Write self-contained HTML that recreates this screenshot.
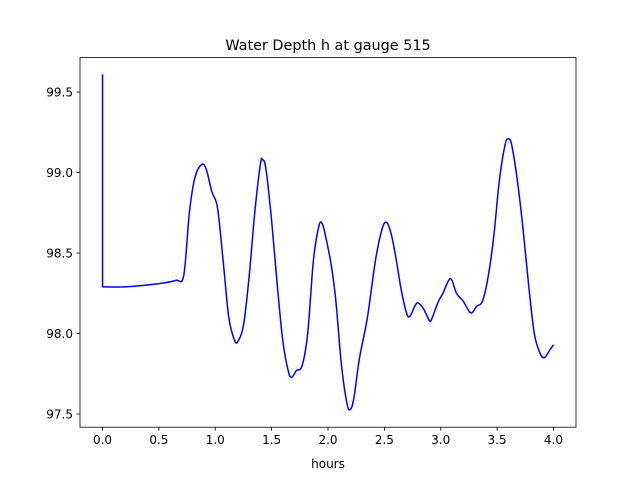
<!DOCTYPE html>
<html><head><meta charset="utf-8"><style>
body{margin:0;background:#fff}
svg text{font-family:"DejaVu Sans","Liberation Sans",sans-serif;font-size:12px;fill:#000}
</style></head><body>
<svg id="chart" width="640" height="480" xmlns="http://www.w3.org/2000/svg">
<rect width="640" height="480" fill="#fff"/>
<text x="328" y="50" text-anchor="middle" style="font-size:14.4px">Water Depth h at gauge 515</text>
<g id="plot"></g>
<rect x="80" y="57.6" width="496" height="369.6" fill="none" stroke="#000" stroke-width="0.8"/>
<text x="328" y="468" text-anchor="middle">hours</text>
</svg>
<script>
const xTicks=[0,0.5,1,1.5,2,2.5,3,3.5,4];
const xTickLabels=["0.0","0.5","1.0","1.5","2.0","2.5","3.0","3.5","4.0"];
const yTicks=[97.5,98,98.5,99,99.5];
const yTickLabels=["97.5","98.0","98.5","99.0","99.5"];
const times=[0,0,0.2,0.5,0.65,0.72,0.77,0.82,0.88,0.92,0.97,1.02,1.07,1.12,1.17,1.2,1.25,1.3,1.35,1.4,1.42,1.45,1.5,1.55,1.6,1.65,1.68,1.72,1.77,1.82,1.87,1.92,1.95,1.98,2.03,2.07,2.12,2.17,2.2,2.23,2.28,2.35,2.42,2.48,2.52,2.56,2.6,2.65,2.7,2.73,2.77,2.8,2.85,2.9,2.92,2.98,3.02,3.07,3.1,3.14,3.2,3.25,3.28,3.32,3.37,3.42,3.47,3.52,3.57,3.6,3.63,3.68,3.73,3.78,3.83,3.88,3.92,3.97,4.0];
const depth=[99.61,98.29,98.29,98.31,98.33,98.36,98.75,98.97,99.05,99.02,98.88,98.78,98.45,98.1,97.96,97.95,98.05,98.35,98.75,99.05,99.08,99.02,98.7,98.3,97.95,97.76,97.73,97.77,97.8,98.0,98.45,98.67,98.68,98.6,98.42,98.2,97.8,97.56,97.53,97.6,97.85,98.1,98.45,98.65,98.69,98.62,98.48,98.27,98.12,98.11,98.17,98.19,98.15,98.08,98.09,98.2,98.25,98.33,98.33,98.25,98.2,98.14,98.13,98.17,98.2,98.35,98.6,98.95,99.17,99.21,99.17,98.95,98.65,98.3,98.0,97.88,97.85,97.9,97.93];
const X0=80,X1=576,Y0=57.6,Y1=427.2;
const xmin=-0.2,xmax=4.2,ymin=97.418,ymax=99.714;
const sx=v=>X0+(v-xmin)/(xmax-xmin)*(X1-X0);
const sy=v=>Y1-(v-ymin)/(ymax-ymin)*(Y1-Y0);
const NS="http://www.w3.org/2000/svg";
const g=document.getElementById('plot');
function mk(t,a){const e=document.createElementNS(NS,t);for(const k in a)e.setAttribute(k,a[k]);g.appendChild(e);return e;}
xTicks.forEach((v,i)=>{
  const l=mk('line',{x1:sx(v),x2:sx(v),y1:Y1,y2:Y1+3.5,stroke:'#000','stroke-width':0.8});
  
  
  const t=mk('text',{x:sx(v),y:Y1+17,'text-anchor':'middle'});t.textContent=xTickLabels[i];
  
  
});
yTicks.forEach((v,i)=>{
  const l=mk('line',{x1:X0-3.5,x2:X0,y1:sy(v),y2:sy(v),stroke:'#000','stroke-width':0.8});
  
  
  const t=mk('text',{x:X0-7,y:sy(v)+4.5,'text-anchor':'end'});t.textContent=yTickLabels[i];
  
  
});
const P=times.map((t,i)=>[sx(t),sy(depth[i])]);
let d='M'+P[0][0].toFixed(2)+','+P[0][1].toFixed(2)+' L'+P[1][0].toFixed(2)+','+P[1][1].toFixed(2);
for(let i=1;i<P.length-1;i++){
  const p0=P[Math.max(1,i-1)],p1=P[i],p2=P[i+1],p3=P[Math.min(P.length-1,i+2)];
  const c1=[p1[0]+(p2[0]-p0[0])/6,p1[1]+(p2[1]-p0[1])/6];
  const c2=[p2[0]-(p3[0]-p1[0])/6,p2[1]-(p3[1]-p1[1])/6];
  d+=' C'+c1[0].toFixed(2)+','+c1[1].toFixed(2)+' '+c2[0].toFixed(2)+','+c2[1].toFixed(2)+' '+p2[0].toFixed(2)+','+p2[1].toFixed(2);
}
const line=mk('path',{d:d,fill:'none',stroke:'#0000ff','stroke-width':1.5,'stroke-linejoin':'round'});


</script>
</body></html>
